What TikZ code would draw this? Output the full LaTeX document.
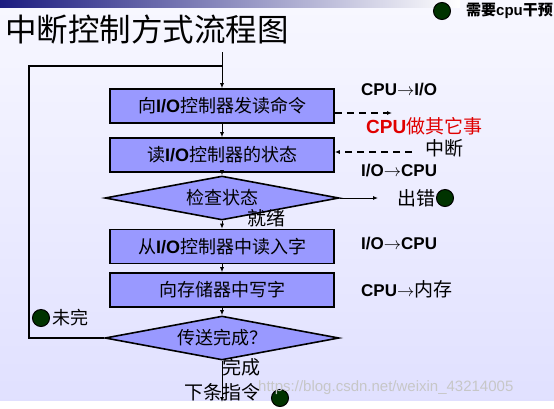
\documentclass[tikz,border=0pt]{standalone}
\usepackage{fontspec}
\setmainfont{Noto Sans CJK SC}
\newfontfamily\lat{Liberation Sans}
\usetikzlibrary{shapes.geometric,arrows.meta,positioning}
\definecolor{boxblue}{HTML}{9999FF}
\definecolor{dotgreen}{HTML}{003300}
\definecolor{barnavy}{HTML}{1C1C80}
\definecolor{busyred}{HTML}{E00000}
\newcommand{\IO}{{\lat\bfseries I/O}}
\newcommand{\toarrow}{\ensuremath{\rightarrow}}

\begin{document}
\begin{tikzpicture}[x=1pt, y=-1pt,
  box/.style={draw, line width=1.6pt, fill=boxblue, minimum width=224pt, minimum height=34pt, inner sep=0pt, font=\fontsize{18}{20}\selectfont},
  decision/.style={diamond, draw, line width=1.6pt, fill=boxblue, aspect=5.3, minimum width=234pt, minimum height=44pt, inner sep=0pt, font=\fontsize{18}{20}\selectfont},
  dot/.style={circle, draw, line width=1pt, fill=dotgreen, minimum size=17pt, inner sep=0pt},
  lbl/.style={anchor=west, inner sep=0pt, font=\lat\bfseries\fontsize{17}{19}\selectfont},
  note/.style={inner sep=0pt, font=\fontsize{19}{21}\selectfont},
  flow/.style={-{Latex[length=5pt,width=4pt]}, line width=0.9pt},
  signal/.style={flow, line width=1.3pt, dash pattern=on 7pt off 5pt}]
  \clip (0,0) rectangle (554,408);
  \useasboundingbox (0,0) rectangle (554,408);

  % Background
  \fill[white] (0,0) rectangle (554,408);
  \shade[top color=white!97!blue, bottom color=blue!12!white] (0,0) rectangle (554,400);
  \shade[left color=barnavy, right color=white] (0,0) rectangle (460,7);

  % Legend and title
  \node[dot] (key) at (442,11) {};
  \node[anchor=west, inner sep=0pt, font=\bfseries\fontsize{15}{17}\selectfont] (keytext) at (466,11) {需要{\lat\bfseries cpu}干预};
  \node[anchor=west, inner sep=0pt, font=\fontsize{31.5}{33}\selectfont] (title) at (5,30) {中断控制方式流程图};

  % Nodes
  \coordinate (top) at (222,52);
  \coordinate (loop) at (222,66);
  \coordinate (corner) at (29,66);
  \node[box] (b1) at (222,106) {向\IO 控制器发读命令};
  \node[box] (b2) at (222,155) {读\IO 控制器的状态};
  \node[decision] (d1) at (222,198) {检查状态};
  \node[box] (b3) at (222,246.5) {从\IO 控制器中读入字};
  \node[box] (b4) at (222,290) {向存储器中写字};
  \node[decision] (d2) at (222,338) {传送完成？};
  \coordinate (done) at (222,402);

  % Side labels
  \node[lbl] (cpuio) at (361,90) {CPU\toarrow I/O};
  \coordinate (busyend) at (392,113);
  \node[note, anchor=west, text=busyred] (busy) at (366,126) {{\lat\bfseries CPU}做其它事};
  \node[note, anchor=west] (irq) at (425,148) {中断};
  \coordinate (irqstart) at (412,152);
  \node[lbl] (iocpu) at (361,171) {I/O\toarrow CPU};
  \coordinate (errend) at (378,198);
  \node[note, anchor=west] (err) at (397,198) {出错};
  \node[dot] (errdot) at (445,198) {};
  \node[note] (ready) at (266,218) {就绪};
  \node[lbl] (iocpu2) at (361,244) {I/O\toarrow CPU};
  \node[lbl] (cpumem) at (361,289) {CPU\toarrow{\normalfont\fontsize{19}{21}\selectfont 内存}};
  \node[dot] (notdot) at (41,318) {};
  \node[note, anchor=west, font=\fontsize{18}{20}\selectfont] (notdone) at (52,318) {未完};
  \node[note] (fin) at (241,367) {完成};
  \node[note] (next) at (222,392) {下条指令};
  \node[dot] (nextdot) at (280,398) {};

  % Arrows
  \draw[flow] (top) -- (b1);
  \draw[flow] (b1) -- (b2);
  \draw[flow] (b2) -- (d1);
  \draw[flow] (d1) -- (b3);
  \draw[flow] (b3) -- (b4);
  \draw[flow] (b4) -- (d2);
  \draw[flow] (d2) -- (done);
  \draw[flow] (d1) -- (errend);
  \draw[line width=1.5pt] (d2.west) -| (corner) -- (loop);
  \draw[signal] (b1.east |- busyend) -- (busyend);
  \draw[signal] (irqstart) -- (b2.east |- irqstart);

  % Watermark
  \node[anchor=west, inner sep=0pt, text=black!22, font=\lat\fontsize{15}{17}\selectfont] (mark) at (258,388) {https://blog.csdn.net/weixin\_43214005};
\end{tikzpicture}
\end{document}
